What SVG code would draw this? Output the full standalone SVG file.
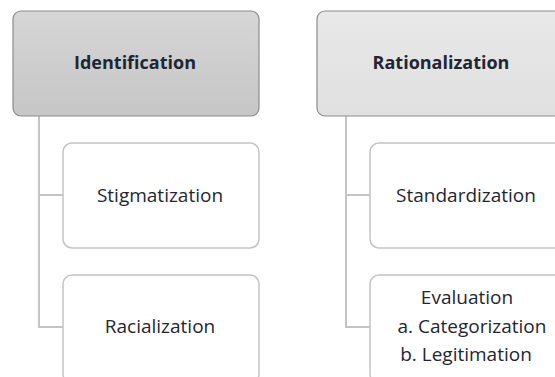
<svg xmlns="http://www.w3.org/2000/svg" width="555" height="377" viewBox="0 0 555 377">
<defs>
<linearGradient id="g1" x1="0" y1="0" x2="0" y2="1"><stop offset="0" stop-color="#d6d6d6"/><stop offset="1" stop-color="#c6c6c6"/></linearGradient>
<linearGradient id="g2" x1="0" y1="0" x2="0" y2="1"><stop offset="0" stop-color="#e8e8e8"/><stop offset="1" stop-color="#e0e0e0"/></linearGradient>
</defs>
<style>
.top{stroke:#8c8c8c;stroke-width:1.2}
.sub{fill:#ffffff;stroke:#c4c4c4;stroke-width:1.5}
.conn{fill:none;stroke:#c4c4c4;stroke-width:2}
text{font-family:"Open Sans","Liberation Sans",sans-serif;fill:#1f2633;text-anchor:middle}
.t{font-size:18px;font-weight:bold}
.s{font-size:19px}
</style>
<rect width="555" height="377" fill="#ffffff"/>
<g id="connectors">
<path class="conn" d="M39,116 V327 H63 M39,195 H63"/>
<path class="conn" d="M346,116 V327 H370 M346,195 H370"/>
</g>
<g id="identification">
<rect class="top" x="13" y="11" width="246" height="105" rx="8" fill="url(#g1)"/>
<text class="t" x="135" y="69">Identification</text>
</g>
<g id="rationalization">
<rect class="top" x="317" y="11" width="246" height="105" rx="8" fill="url(#g2)"/>
<text class="t" x="441" y="69">Rationalization</text>
</g>
<g id="stigmatization">
<rect class="sub" x="63" y="143" width="196" height="105" rx="9"/>
<text class="s" x="160" y="202">Stigmatization</text>
</g>
<g id="racialization">
<rect class="sub" x="63" y="275" width="196" height="108" rx="9"/>
<text class="s" x="160" y="333">Racialization</text>
</g>
<g id="standardization">
<rect class="sub" x="370" y="143" width="197" height="105" rx="9"/>
<text class="s" x="466" y="202">Standardization</text>
</g>
<g id="evaluation">
<rect class="sub" x="370" y="275" width="197" height="108" rx="9"/>
<text class="s" x="467" y="304">Evaluation</text>
<text class="s" x="472" y="333">a. Categorization</text>
<text class="s" x="466" y="361">b. Legitimation</text>
</g>
</svg>
